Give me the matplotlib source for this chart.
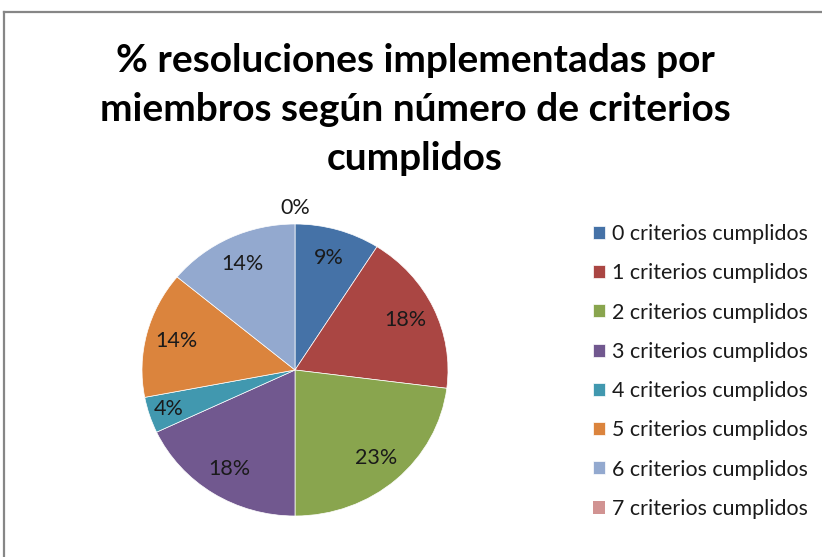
import numpy as np
import matplotlib
matplotlib.use("Agg")
import matplotlib.pyplot as plt
from matplotlib.lines import Line2D

title = "% resoluciones implementadas por\nmiembros según número de criterios\ncumplidos"
categories = ["0 criterios cumplidos", "1 criterios cumplidos", "2 criterios cumplidos",
              "3 criterios cumplidos", "4 criterios cumplidos", "5 criterios cumplidos",
              "6 criterios cumplidos", "7 criterios cumplidos"]
values = [9, 18, 23, 18, 4, 14, 14, 0]
colors = ["#4572A7", "#AA4643", "#89A54E", "#71588F", "#4198AF", "#DB843D", "#93A9CF", "#D19392"]

W, H = 822, 557
fig = plt.figure(figsize=(W / 100, H / 100), dpi=100)
fig.patch.set_facecolor("white")

# chart border (cropped at right and bottom)
fig.add_artist(Line2D([4 / W, 1.0], [1 - 12 / H, 1 - 12 / H], color="#868686", lw=1.6, transform=fig.transFigure))
fig.add_artist(Line2D([4 / W, 4 / W], [0, 1 - 12 / H], color="#868686", lw=1.6, transform=fig.transFigure))

cx, cy, rx, ry = 295, 370, 153, 146
ax = fig.add_axes([(cx - rx) / W, (H - cy - ry) / H, 2 * rx / W, 2 * ry / H])
wedges, _ = ax.pie(values, colors=colors, startangle=90, counterclock=False,
                   wedgeprops=dict(edgecolor="white", linewidth=0.5))
for w, v in zip(wedges, values):
    if v == 0:
        w.set_linewidth(0)
ax.set_aspect("auto")
ax.set_xlim(-1, 1)
ax.set_ylim(-1, 1)

for w, v in zip(wedges, values):
    mid = np.deg2rad((w.theta1 + w.theta2) / 2)
    r = 0.8 if v >= 5 else (0.87 if v > 0 else 1.11)
    ax.text(r * np.cos(mid), r * np.sin(mid), f"{v}%", ha="center", va="center",
            fontsize=15.5, family="Lato", color="#1a1a1a", clip_on=False)

fig.text(415 / W, 1 - 43 / H, title, ha="center", va="top", fontsize=28,
         fontweight="bold", family="Lato", linespacing=1.48, color="black")

fig.legend(wedges, categories, loc="upper left", bbox_to_anchor=(593 / W, 1 - 224 / H),
           frameon=False, prop=dict(family="Lato", size=15.4), handlelength=0.55,
           handleheight=0.55, handletextpad=0.33, labelspacing=0.9, borderaxespad=0,
           borderpad=0, labelcolor="#1a1a1a")

fig.savefig("out.png", dpi=100, facecolor="white")
